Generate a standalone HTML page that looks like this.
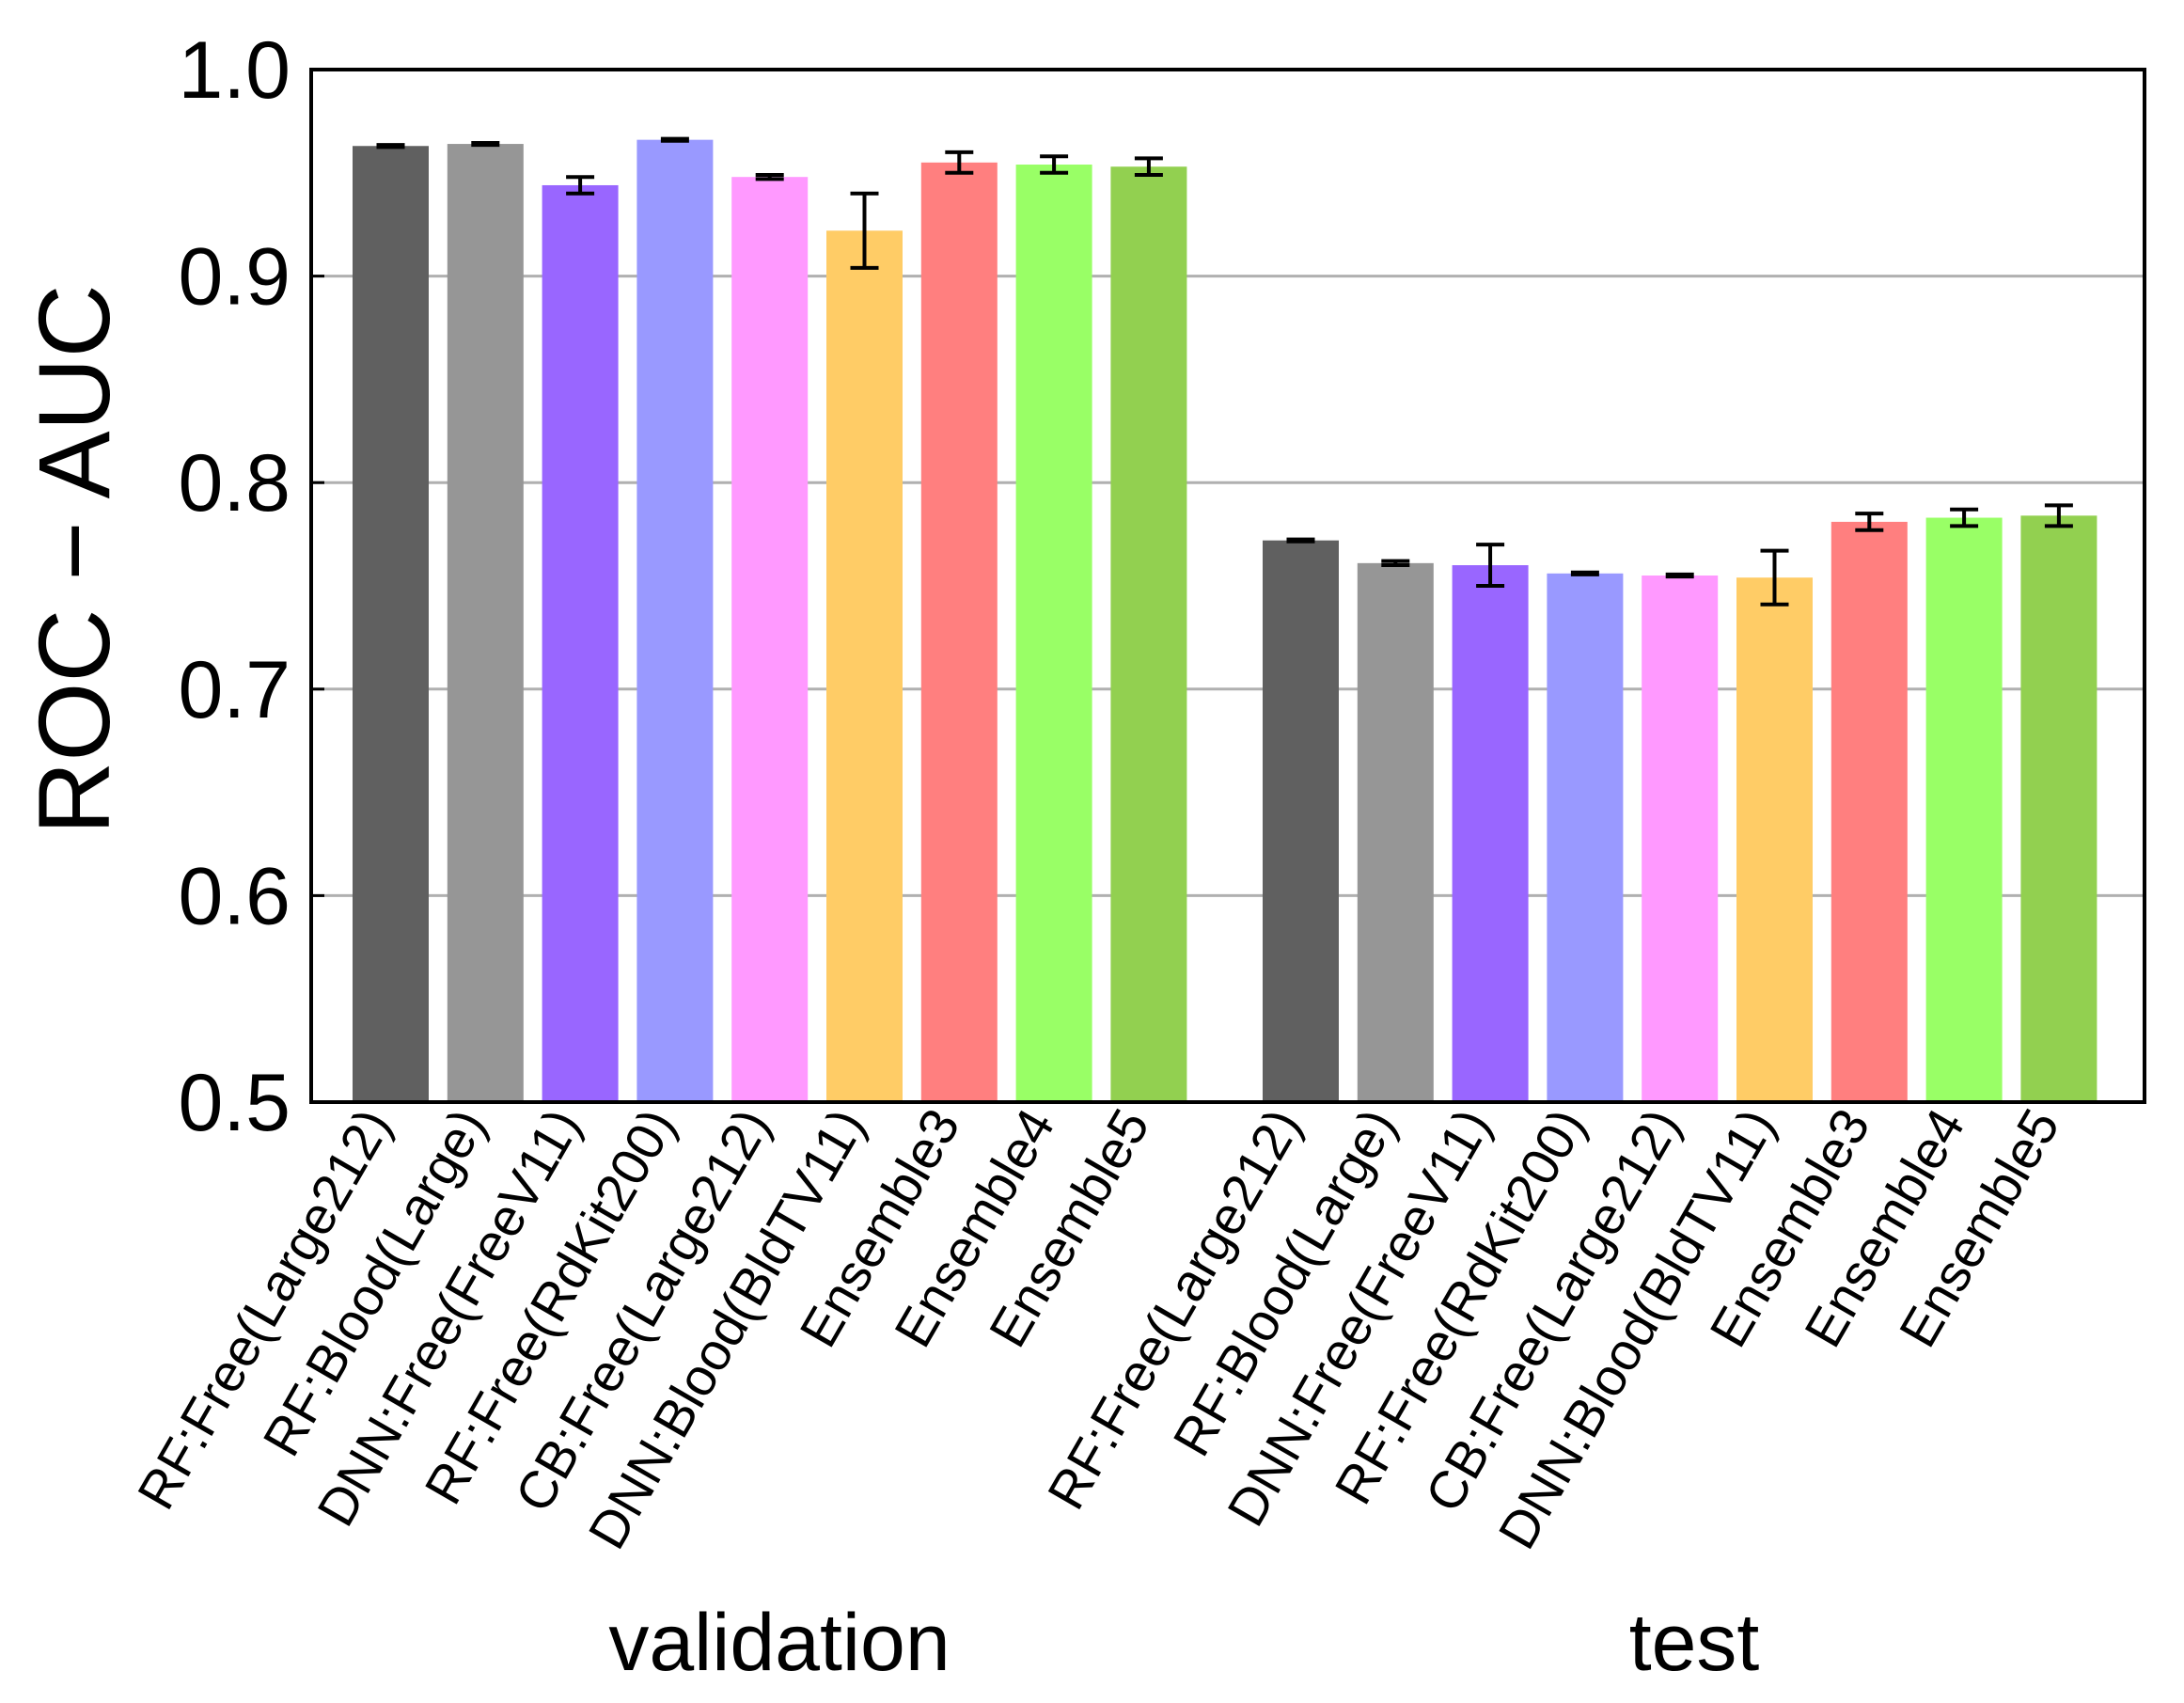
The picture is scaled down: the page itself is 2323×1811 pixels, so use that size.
<!DOCTYPE html>
<html><head><meta charset="utf-8"><style>
html,body{margin:0;padding:0;background:#fff;}
svg{display:block;font-family:"Liberation Sans",sans-serif;}
</style></head><body>
<svg id="chart" width="2323" height="1811" viewBox="0 0 2323 1811" xmlns="http://www.w3.org/2000/svg"></svg>
<script>
const categories = ["RF:Free(Large212)","RF:Blood(Large)","DNN:Free(FreeV11)","RF:Free(RdKit200)","CB:Free(Large212)","DNN:Blood(BldTV11)","Ensemble3","Ensemble4","Ensemble5"];
const groups = ["validation","test"];
const validationValues = [0.963,0.964,0.944,0.966,0.948,0.922,0.955,0.954,0.953];
const validationErrors = [0.0005,0.0005,0.004,0.0005,0.001,0.018,0.005,0.004,0.004];
const testValues = [0.772,0.761,0.760,0.756,0.755,0.754,0.781,0.783,0.784];
const testErrors = [0.0005,0.001,0.010,0.0005,0.0005,0.013,0.004,0.004,0.005];
const yTicks = [0.5,0.6,0.7,0.8,0.9,1.0];
const colors = ["#606060","#969696","#9966ff","#9999ff","#ff99ff","#ffcc66","#ff7f7f","#99ff66","#92d050"];

const svg = document.getElementById('chart');
const NS = "http://www.w3.org/2000/svg";
const L=331, R=2281, T=74, B=1172;
const yMin=0.5, yMax=1.0;
function y(v){return B-(v-yMin)/(yMax-yMin)*(B-T);}
const groupStart=[375,1343], step=100.8, bw=81;
function xBar(g,i){return groupStart[g]+i*step;}
function mk(tag,attrs){const e=document.createElementNS(NS,tag);for(const k in attrs)e.setAttribute(k,attrs[k]);svg.appendChild(e);return e;}

yTicks.forEach(t=>{
  if(t>yMin && t<yMax){
    const g=mk('line',{x1:L,x2:R,y1:y(t),y2:y(t),stroke:'#b0b0b0','stroke-width':3});
    
    
  }
  const tk=mk('line',{x1:L,x2:L+14,y1:y(t),y2:y(t),stroke:'#000','stroke-width':3});
  
  
  const tl=mk('text',{x:L-22,y:y(t)+30,'text-anchor':'end','font-size':86,fill:'#000'});
  tl.textContent=t.toFixed(1);
  
  
});

const series=[[validationValues,validationErrors],[testValues,testErrors]];
series.forEach((s,g)=>{
  s[0].forEach((v,i)=>{
    const x=xBar(g,i);
    const r=mk('rect',{x:x,y:y(v),width:bw,height:B-y(v),fill:colors[i]});
    
    
    const e=s[1][i], cx=x+bw/2;
    const eb=mk('path',{d:`M${cx-15},${y(v+e)}H${cx+15}M${cx},${y(v+e)}V${y(v-e)}M${cx-15},${y(v-e)}H${cx+15}`,stroke:'#000','stroke-width':4,fill:'none'});
    
    
    const lx=cx+2, ly=B+22;
    const t=mk('text',{x:lx,y:ly,'text-anchor':'end','font-size':56,fill:'#000',transform:`rotate(-60 ${lx} ${ly})`});
    t.textContent=categories[i];
    
    
  });
});

const frame=mk('rect',{x:L,y:T,width:R-L,height:B-T,fill:'none',stroke:'#000','stroke-width':4});



const yl=mk('text',{x:0,y:0,'text-anchor':'middle','font-size':108,fill:'#000',transform:'translate(116,595) rotate(-90)'});
yl.textContent='ROC − AUC';



[829,1802].forEach((cx,g)=>{
  const t=mk('text',{x:cx,y:1776,'text-anchor':'middle','font-size':86,fill:'#000'});
  t.textContent=groups[g];
  
  
});
</script>
</body></html>
